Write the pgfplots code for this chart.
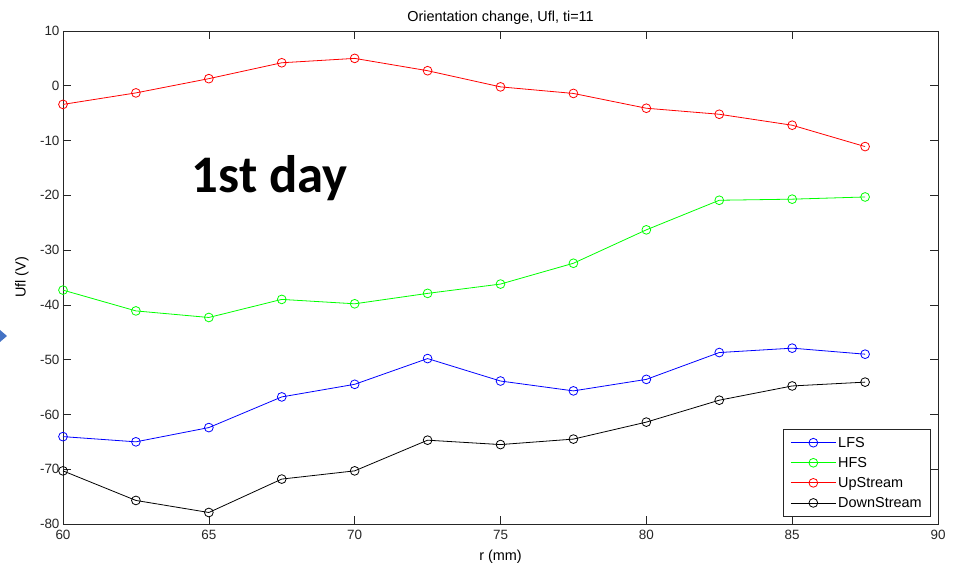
\documentclass[border=0pt]{standalone}
\usepackage{pgfplots}
\pgfplotsset{compat=1.18}
\usepackage{fontspec}
\setmainfont{Liberation Sans}
\newfontfamily\carlito{Carlito}
\definecolor{mblue}{RGB}{0,0,255}
\definecolor{mgreen}{RGB}{0,255,0}
\definecolor{mred}{RGB}{255,0,0}
\definecolor{arrowblue}{RGB}{68,114,196}
\begin{document}
\begin{tikzpicture}[x=1bp,y=1bp]
\fill[arrowblue] (-63,194) -- (-56,188) -- (-63,182) -- cycle;
\begin{axis}[
  at={(0,0)}, anchor=south west,
  scale only axis, width=875bp, height=493bp,
  xmin=60, xmax=90, ymin=-80, ymax=10,
  xtick={60,65,...,90}, ytick={-80,-70,...,10},
  tick align=inside, major tick length=8bp,
  xtick pos=both, ytick pos=both,
  tick style={black!85, line width=0.6pt},
  axis line style={black!85, line width=0.8pt},
  /pgf/number format/assume math mode=true,
  tick label style={font=\fontsize{13.5}{16}\selectfont, text=black!85},
  xticklabel style={yshift=-3bp},
  title={Orientation change, Ufl, ti=11},
  title style={font=\fontsize{14.5}{16}\selectfont, at={(axis description cs:0.5,1.0243)}, anchor=base, inner sep=0pt, yshift=-8bp},
  xlabel={r (mm)},
  xlabel style={font=\fontsize{14.5}{16}\selectfont, at={(axis description cs:0.5,-0.0629)}, anchor=center, yshift=-2bp},
  ylabel={Ufl (V)},
  ylabel style={font=\fontsize{14.5}{16}\selectfont, at={(axis description cs:-0.0469,0.5)}, anchor=center},
  every axis plot/.append style={line width=0.8pt, mark=o, mark size=4.4pt, mark options={solid}},
  legend image code/.code={\draw[mark repeat=2,mark phase=2] plot coordinates {(0bp,0bp) (22.5bp,0bp) (45bp,0bp)};},
  legend style={at={(axis description cs:1,0)}, anchor=south east, xshift=-7bp, yshift=7bp,
    font=\fontsize{14.5}{16}\selectfont, draw=black!85, line width=0.6pt,
    row sep=4.5bp, inner xsep=7bp, inner ysep=6bp},
  legend cell align=left,
]
\addplot[mblue] coordinates {(60,-64.05) (62.5,-65.0) (65,-62.4) (67.5,-56.8) (70,-54.5) (72.5,-49.8) (75,-53.9) (77.5,-55.7) (80,-53.6) (82.5,-48.7) (85,-47.9) (87.5,-49.0)};
\addlegendentry{LFS}
\addplot[mgreen] coordinates {(60,-37.3) (62.5,-41.1) (65,-42.3) (67.5,-39.0) (70,-39.8) (72.5,-37.9) (75,-36.2) (77.5,-32.4) (80,-26.3) (82.5,-20.9) (85,-20.7) (87.5,-20.3)};
\addlegendentry{HFS}
\addplot[mred] coordinates {(60,-3.4) (62.5,-1.3) (65,1.3) (67.5,4.2) (70,5.0) (72.5,2.75) (75,-0.2) (77.5,-1.4) (80,-4.1) (82.5,-5.2) (85,-7.2) (87.5,-11.1)};
\addlegendentry{UpStream}
\addplot[black] coordinates {(60,-70.3) (62.5,-75.7) (65,-77.9) (67.5,-71.8) (70,-70.3) (72.5,-64.7) (75,-65.5) (77.5,-64.5) (80,-61.4) (82.5,-57.4) (85,-54.8) (87.5,-54.1)};
\addlegendentry{DownStream}
\node[anchor=base west, font=\carlito\bfseries\fontsize{53}{60}\selectfont, inner sep=0pt] at (rel axis cs:0.147,0.673) {1st day};
\end{axis}
\pgfresetboundingbox
\path[use as bounding box] (-63,-43) rectangle (892,524);
\end{tikzpicture}
\end{document}
